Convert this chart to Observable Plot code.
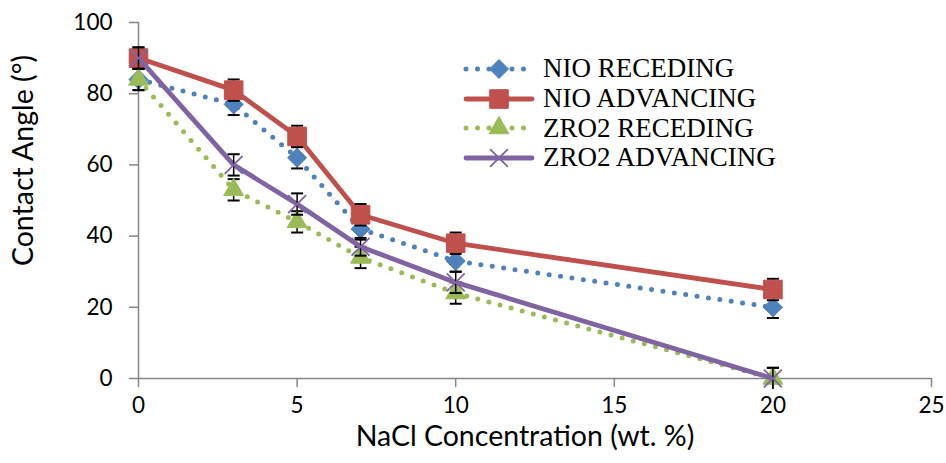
<!DOCTYPE html>
<html>
<head>
<meta charset="utf-8">
<script src="https://cdn.jsdelivr.net/npm/d3@7"></script>
<script src="https://cdn.jsdelivr.net/npm/@observablehq/plot@0.6"></script>
<style>
  body { margin: 0; background: #fff; }
  #wrap { position: relative; width: 946px; height: 463px; }
  #legend { position: absolute; left: 462px; top: 54px; font-family: "Liberation Serif", "Times New Roman", serif; font-size: 27px; color: #000; }
  .row { display: flex; align-items: center; height: 29.7px; }
  .row svg { margin-right: 7px; }
</style>
</head>
<body>
<div id="wrap"><div id="legend"></div></div>
<script>
// ---- Data ----
const concentration = [0, 3, 5, 7, 10, 20];
const nioReceding   = [84, 77, 62, 42, 33, 20];
const nioAdvancing  = [90, 81, 68, 46, 38, 25];
const zro2Receding  = [84, 53, 44, 34, 24, 0];
const zro2Advancing = [90, 60, 49, 37, 27, 0];
const nioRecedingErr   = [3, 3, 3, 3, 3, 3];
const nioAdvancingErr  = [3, 3, 3, 3, 3, 3];
const zro2RecedingErr  = [3, 3, 3, 3, 3, 3];
const zro2AdvancingErr = [3, 3, 3, 2.5, 3, 3];
const seriesNames = ["NIO RECEDING", "NIO ADVANCING", "ZRO2 RECEDING", "ZRO2 ADVANCING"];
const xTicks = [0, 5, 10, 15, 20, 25];
const yTicks = [0, 20, 40, 60, 80, 100];
const xTitle = "NaCl Concentration (wt. %)";
const yTitle = "Contact Angle (°)";

// ---- Styles ----
const styles = [
  {values: nioReceding, err: nioRecedingErr, color: "#4F81BD", dotted: true, symbol: "diamond2", r: 8.6, filled: true},
  {values: nioAdvancing, err: nioAdvancingErr, color: "#C0504D", dotted: false, symbol: "square", r: 10.5, filled: true},
  {values: zro2Receding, err: zro2RecedingErr, color: "#9BBB59", dotted: true, symbol: "triangle", r: 7.4, filled: true},
  {values: zro2Advancing, err: zro2AdvancingErr, color: "#8064A2", dotted: false, symbol: "times", r: 8.2, filled: false}
];

const capSymbol = {
  draw(context, size) {
    const w = Math.sqrt(size / Math.PI);
    context.moveTo(-w, 0);
    context.lineTo(w, 0);
  }
};

const marks = [];
marks.push(Plot.ruleY([0], {stroke: "#868686", strokeWidth: 1.5}));
marks.push(Plot.ruleX([0], {stroke: "#868686", strokeWidth: 1.5}));
marks.push(Plot.axisX({ticks: xTicks, tickSize: 9, tickPadding: 10, stroke: "#868686", strokeWidth: 1.5, fill: "#000", fontSize: 22.5, label: null}));
marks.push(Plot.axisY({ticks: yTicks, tickSize: 9, tickPadding: 17, stroke: "#868686", strokeWidth: 1.5, fill: "#000", fontSize: 22.5, label: null}));
marks.push(Plot.text([yTitle], {frameAnchor: "left", textAnchor: "middle", lineAnchor: "middle", dx: -115, dy: -40, rotate: -90, fontSize: 28.5, fill: "#000"}));
marks.push(Plot.text([xTitle], {frameAnchor: "bottom", textAnchor: "middle", lineAnchor: "top", dx: -10, dy: 47, fontSize: 28.5, fill: "#000"}));

styles.forEach((s, i) => {
  const data = concentration.map((x, j) => ({x, y: s.values[j], e: s.err[j], series: seriesNames[i]}));
  marks.push(Plot.line(data, {
    x: "x", y: "y", stroke: s.color,
    strokeWidth: s.dotted ? 5 : 4.8,
    strokeDasharray: s.dotted ? "0 11.5" : null,
    strokeLinecap: "round", strokeLinejoin: "round"
  }));
  marks.push(Plot.ruleX(data, {x: "x", y1: d => d.y - d.e, y2: d => Math.min(100, d.y + d.e), stroke: "#000", strokeWidth: 1.5}));
  marks.push(Plot.dot(data, {x: "x", y: d => d.y + d.e, symbol: capSymbol, r: 6, stroke: "#000", strokeWidth: 2}));
  marks.push(Plot.dot(data, {x: "x", y: d => d.y - d.e, symbol: capSymbol, r: 6, stroke: "#000", strokeWidth: 2, filter: d => d.y - d.e >= 0}));
  marks.push(Plot.dot(data, {
    x: "x", y: "y", symbol: s.symbol, r: s.r,
    fill: s.filled ? s.color : "none",
    stroke: s.color, strokeWidth: s.filled ? 1 : 1.8
  }));
});

const chart = Plot.plot({
  width: 946,
  height: 463,
  marginLeft: 138,
  marginRight: 15,
  marginTop: 22,
  marginBottom: 85,
  style: {fontFamily: "Lato, 'Open Sans', sans-serif", fontSize: "22px", color: "#000", background: "#fff", overflow: "visible"},
  x: {domain: [0, 25]},
  y: {domain: [0, 100]},
  marks
});
document.getElementById("wrap").prepend(chart);

// ---- Legend ----
const legend = d3.select("#legend");
const symMap = {diamond2: d3.symbolDiamond2, square: d3.symbolSquare, triangle: d3.symbolTriangle, times: d3.symbolTimes};
styles.forEach((s, i) => {
  const row = legend.append("div").attr("class", "row");
  const svg = row.append("svg").attr("width", 74).attr("height", 28);
  svg.append("line").attr("x1", 4).attr("x2", 70).attr("y1", 14).attr("y2", 14)
    .attr("stroke", s.color).attr("stroke-width", s.dotted ? 5 : 4.8)
    .attr("stroke-dasharray", s.dotted ? "0 11.5" : null).attr("stroke-linecap", "round");
  svg.append("path").attr("transform", "translate(37,14)")
    .attr("d", d3.symbol(symMap[s.symbol], s.r * s.r * Math.PI)())
    .attr("fill", s.filled ? s.color : "none").attr("stroke", s.color).attr("stroke-width", s.filled ? 1 : 1.8);
  row.append("span").text(seriesNames[i]);
});
</script>
</body>
</html>
